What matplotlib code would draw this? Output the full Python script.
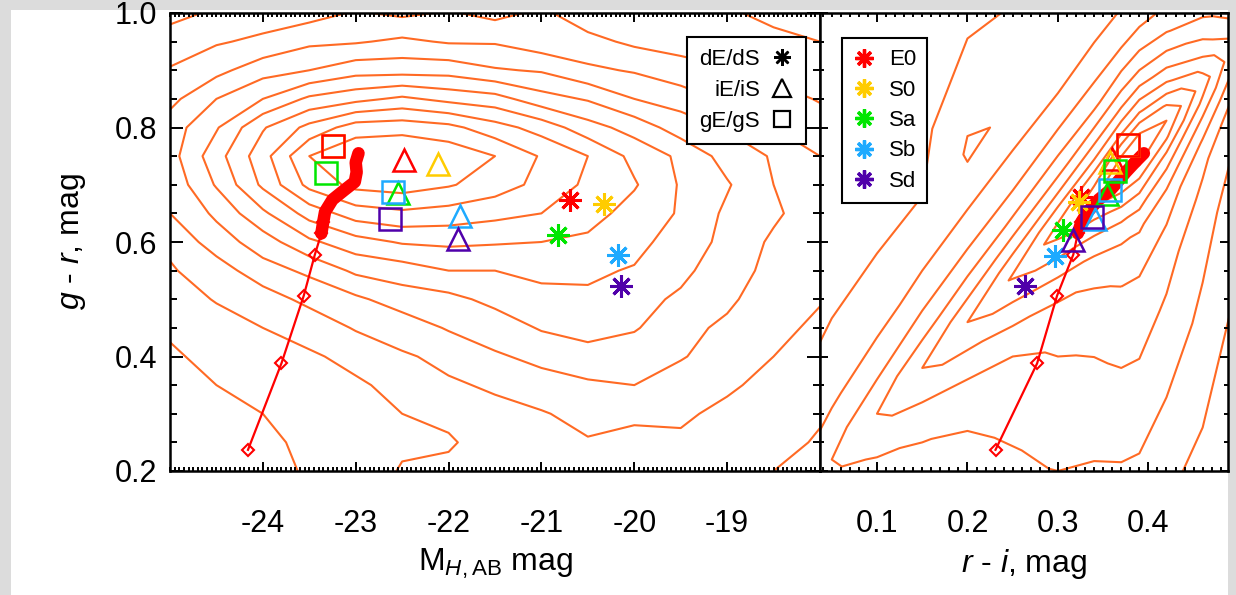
import numpy as np
import matplotlib
matplotlib.use('Agg')
import matplotlib.pyplot as plt
from matplotlib.lines import Line2D
from matplotlib.patches import Rectangle
from matplotlib.ticker import FixedLocator, MultipleLocator, FixedFormatter

plt.rcParams['font.family'] = ['Liberation Sans', 'DejaVu Sans']
plt.rcParams['axes.unicode_minus'] = False
plt.rcParams['mathtext.fontset'] = 'custom'
plt.rcParams['mathtext.rm'] = 'Liberation Sans'
plt.rcParams['mathtext.it'] = 'Liberation Sans:italic'
plt.rcParams['mathtext.bf'] = 'Liberation Sans:bold'

# ---------------- data ----------------
types = ['E0', 'S0', 'Sa', 'Sb', 'Sd']
type_colors = ['#ff0000', '#ffcc00', '#00e600', '#1eaaff', '#5000aa']

# left panel: M_H,AB vs g-r
dwarf_MH = [-20.69, -20.33, -20.82, -20.17, -20.14]
dwarf_gr = [0.673, 0.666, 0.613, 0.577, 0.524]
inter_MH = [-22.48, -22.11, -22.55, -21.88, -21.90]
inter_gr = [0.743, 0.737, 0.686, 0.646, 0.606]
giant_MH = [-23.245, -23.245, -23.32, -22.60, -22.63]
giant_gr = [0.768, 0.768, 0.720, 0.687, 0.641]

# right panel: r-i vs g-r
dwarf_ri = [0.326, 0.323, 0.306, 0.297, 0.264]
dwarf_gr2 = [0.678, 0.670, 0.621, 0.575, 0.524]
inter_ri = [0.360, 0.358, 0.354, 0.341, 0.317]
inter_gr2 = [0.745, 0.739, 0.684, 0.641, 0.604]
giant_ri = [0.377, 0.377, 0.363, 0.358, 0.338]
giant_gr3 = [0.770, 0.770, 0.724, 0.690, 0.644]

# model track
track_gr = [0.237, 0.388, 0.506, 0.578, 0.615, 0.635, 0.653, 0.674, 0.691, 0.705, 0.722, 0.739, 0.755]
track_MH = [-24.16, -23.80, -23.56, -23.44, -23.37, -23.35, -23.33, -23.25, -23.12, -23.01, -22.99, -23.00, -22.97]
track_ri = [0.231, 0.277, 0.299, 0.317, 0.322, 0.326, 0.333, 0.345, 0.358, 0.366, 0.375, 0.385, 0.395]
n_diamond = 6

# density grid, left panel (rows: g-r from 1.00 down to 0.20)
MH_nodes = [-25.0, -24.5, -24.0, -23.5, -23.0, -22.5, -22.0, -21.5, -21.0, -20.5, -20.0, -19.5, -19.0, -18.5, -18.0]
gr_nodes_desc = [1.00, 0.95, 0.90, 0.85, 0.80, 0.75, 0.70, 0.65, 0.60, 0.55, 0.50, 0.45, 0.40, 0.35, 0.30, 0.25, 0.20]
dens_left = [
    [0.3, 0.6, 1.0, 1.1, 1.6, 1.3, 1.6, 1.2, 1.7, 0.9, 1.1, 0.5, 0.6, 0.3, 0.2],
    [0.8, 1.4, 1.7, 2.3, 2.4, 2.7, 2.4, 2.4, 1.9, 1.8, 1.3, 1.2, 0.8, 0.7, 0.5],
    [1.6, 2.2, 3.1, 3.5, 4.1, 4.1, 4.1, 3.6, 3.4, 2.7, 2.4, 1.8, 1.6, 1.1, 1.0],
    [2.2, 3.5, 4.5, 5.7, 6.2, 6.7, 6.2, 5.9, 4.9, 4.4, 3.5, 3.1, 2.3, 2.0, 1.4],
    [3.0, 4.4, 6.4, 7.8, 9.0, 9.1, 8.8, 7.9, 7.1, 5.9, 5.1, 4.0, 3.4, 2.5, 2.1],
    [3.1, 5.1, 7.1, 9.5, 10.4, 10.6, 10.2, 9.5, 8.4, 7.5, 6.2, 5.3, 4.1, 3.4, 2.5],
    [2.8, 4.6, 6.7, 8.8, 9.8, 10.0, 9.6, 9.0, 8.2, 7.3, 6.6, 5.4, 4.6, 3.5, 3.0],
    [2.5, 3.7, 5.3, 6.9, 8.0, 8.3, 8.1, 7.8, 7.5, 6.9, 6.1, 5.4, 4.3, 3.7, 2.8],
    [1.7, 3.0, 4.0, 5.3, 6.1, 6.6, 6.7, 6.6, 6.5, 6.3, 5.9, 4.9, 4.3, 3.3, 2.9],
    [1.4, 2.0, 3.1, 3.7, 4.7, 5.0, 5.5, 5.5, 5.9, 5.7, 5.4, 4.8, 3.8, 3.3, 2.5],
    [0.8, 1.6, 2.0, 2.8, 3.3, 4.0, 4.2, 4.8, 5.0, 5.3, 4.9, 4.3, 3.7, 2.9, 2.6],
    [0.6, 0.9, 1.5, 1.8, 2.6, 2.9, 3.6, 3.9, 4.6, 4.7, 4.6, 3.8, 3.3, 2.9, 2.2],
    [0.4, 0.7, 0.8, 1.4, 1.7, 2.4, 2.7, 3.4, 3.7, 4.3, 3.9, 3.6, 2.9, 2.5, 2.2],
    [0.2, 0.5, 0.6, 0.8, 1.4, 1.7, 2.4, 2.6, 3.2, 3.3, 3.5, 2.9, 2.7, 2.1, 1.9],
    [0.1, 0.3, 0.5, 0.6, 0.8, 1.5, 1.7, 2.3, 2.4, 2.9, 2.7, 2.7, 2.2, 2.1, 1.6],
    [0.1, 0.2, 0.3, 0.7, 0.6, 1.3, 1.4, 1.9, 2.0, 2.4, 2.2, 2.3, 1.9, 1.8, 1.4],
    [0.0, 0.1, 0.2, 0.6, 0.8, 1.6, 1.7, 2.0, 1.9, 2.1, 2.0, 1.9, 1.6, 1.5, 1.3],
]

# density grid, right panel: columns r-i, rows = g-r offset from the colour ridge
ri_nodes = [0.0, 0.05, 0.10, 0.15, 0.20, 0.25, 0.30, 0.34, 0.37, 0.39, 0.42, 0.46, 0.50]
ridge_offsets = [-0.75, -0.60, -0.50, -0.40, -0.32, -0.25, -0.19, -0.14, -0.10, -0.06, -0.03,
                 0.00, 0.03, 0.06, 0.10, 0.15, 0.22, 0.30, 0.40, 0.55, 0.80]
ridge_ri0, ridge_gr0, ridge_slope = 0.10, 0.30, 1.6
dens_right = [
    [0.1, 0.2, 0.3, 0.5, 0.6, 0.8, 1.0, 1.1, 1.2, 1.2, 1.1, 0.9, 0.6],
    [0.2, 0.4, 0.6, 0.8, 1.1, 1.3, 1.6, 1.8, 2.0, 2.1, 1.9, 1.5, 1.0],
    [0.3, 0.5, 0.8, 1.1, 1.4, 1.8, 2.1, 2.3, 2.6, 2.7, 2.4, 1.8, 1.2],
    [0.4, 0.7, 1.0, 1.3, 1.8, 2.1, 2.6, 2.9, 3.2, 3.3, 3.0, 2.3, 1.5],
    [0.5, 0.8, 1.1, 1.5, 2.0, 2.4, 2.9, 3.3, 3.7, 3.8, 3.4, 2.6, 1.7],
    [0.6, 0.9, 1.3, 1.7, 2.2, 2.7, 3.3, 3.7, 4.1, 4.2, 3.8, 2.9, 1.9],
    [0.7, 1.1, 1.6, 2.0, 2.5, 3.0, 3.7, 4.2, 4.7, 4.9, 4.4, 3.3, 2.2],
    [0.8, 1.3, 1.9, 2.4, 2.9, 3.5, 4.2, 4.8, 5.4, 5.6, 5.0, 3.7, 2.4],
    [0.9, 1.6, 2.2, 2.8, 3.5, 4.2, 5.0, 5.7, 6.4, 6.7, 6.0, 4.4, 2.8],
    [1.2, 1.9, 2.7, 3.5, 4.2, 5.1, 6.1, 6.9, 7.9, 8.2, 7.3, 5.4, 3.5],
    [1.4, 2.3, 3.2, 4.1, 5.0, 5.9, 7.1, 8.1, 9.2, 9.5, 8.6, 6.3, 4.1],
    [1.5, 2.5, 3.5, 4.5, 5.5, 6.6, 7.9, 9.0, 10.2, 10.6, 9.5, 7.0, 4.5],
    [1.3, 2.2, 3.1, 4.0, 4.8, 5.8, 7.0, 7.9, 9.0, 9.3, 8.4, 6.2, 4.0],
    [1.1, 1.8, 2.5, 3.2, 4.0, 4.8, 5.7, 6.5, 7.3, 7.6, 6.8, 5.0, 3.2],
    [0.8, 1.4, 1.9, 2.5, 3.0, 3.6, 4.3, 5.0, 5.6, 5.8, 5.2, 3.9, 2.5],
    [0.6, 1.0, 1.3, 1.7, 2.1, 2.5, 3.0, 3.4, 3.9, 4.0, 3.6, 2.7, 1.7],
    [0.3, 0.6, 0.8, 1.0, 1.2, 1.5, 1.7, 2.0, 2.2, 2.3, 2.1, 1.5, 1.0],
    [0.2, 0.3, 0.4, 0.5, 1.6, 1.4, 0.9, 1.1, 1.2, 1.3, 1.1, 0.8, 0.5],
    [0.1, 0.2, 0.2, 0.3, 1.2, 0.9, 0.5, 0.5, 0.6, 0.6, 0.6, 0.4, 0.3],
    [0.0, 0.1, 0.1, 0.1, 0.1, 0.1, 0.2, 0.2, 0.2, 0.2, 0.2, 0.1, 0.1],
    [0.0, 0.0, 0.0, 0.0, 0.0, 0.0, 0.0, 0.0, 0.0, 0.0, 0.0, 0.0, 0.0],
]
contour_levels = [0.5, 1.5, 2.5, 3.5, 4.5, 5.5, 6.5, 7.5, 8.5, 9.5]

x_ticks_left = [-24, -23, -22, -21, -20, -19]
x_ticks_right = [0.1, 0.2, 0.3, 0.4]
y_ticks = [0.2, 0.4, 0.6, 0.8, 1.0]
set_labels = ['dE/dS', 'iE/iS', 'gE/gS']

# ---------------- style ----------------
CONTOUR = '#ff6a24'
TRACK = '#ff0000'
ASTER = (8, 2, 0)

W, H = 1236, 595
fig = plt.figure(figsize=(W / 100, H / 100), dpi=100, facecolor='#dcdcdc')
fig.patches.append(Rectangle((11 / W, 0), 1217 / W, 585 / H, transform=fig.transFigure,
                             facecolor='white', edgecolor='none', zorder=-10))

bottom = (H - 471) / H
height = 458 / H
axL = fig.add_axes([170 / W, bottom, 650 / W, height])
axR = fig.add_axes([820 / W, bottom, 408 / W, height])

# contours
gL = np.flipud(np.array(dens_left))
axL.contour(np.array(MH_nodes), np.array(gr_nodes_desc[::-1]), gL, levels=contour_levels,
            colors=CONTOUR, linewidths=1.5, zorder=1)

RI = np.tile(np.array(ri_nodes), (len(ridge_offsets), 1))
GR = ridge_gr0 + ridge_slope * (RI - ridge_ri0) + np.array(ridge_offsets)[:, None]
axR.contour(RI, GR, np.array(dens_right), levels=contour_levels,
            colors=CONTOUR, linewidths=1.5, zorder=1)

# model tracks
for ax, tx in ((axL, track_MH), (axR, track_ri)):
    ax.plot(tx[:n_diamond], track_gr[:n_diamond], color=TRACK, lw=1.6, marker='D', ms=6.5,
            mfc='none', mec=TRACK, mew=1.5, zorder=3)
    ax.plot(tx[n_diamond - 2:], track_gr[n_diamond - 2:], color=TRACK, lw=9,
            solid_capstyle='round', solid_joinstyle='round', zorder=3)

# galaxy templates
sets_left = [(dwarf_MH, dwarf_gr, ASTER), (inter_MH, inter_gr, '^'), (giant_MH, giant_gr, 's')]
sets_right = [(dwarf_ri, dwarf_gr2, ASTER), (inter_ri, inter_gr2, '^'), (giant_ri, giant_gr3, 's')]
msize = {ASTER: 16, '^': 16, 's': 16}
mwid = {ASTER: 2.2, '^': 1.8, 's': 1.8}
for ax, sets in ((axL, sets_left), (axR, sets_right)):
    for xs, ys, mk in sets:
        order = range(len(types)) if mk != 's' else range(len(types) - 1, -1, -1)
        for i in order:
            if mk == ASTER:
                ax.plot(xs[i], ys[i], ls='none', marker=mk, ms=msize[mk], mec=type_colors[i],
                        mew=mwid[mk], zorder=4)
            else:
                ax.plot(xs[i], ys[i], ls='none', marker=mk, ms=msize[mk], mfc='none',
                        mec=type_colors[i], mew=mwid[mk], zorder=4)

# axes cosmetics
axL.set_xlim(-25, -18)
axR.set_xlim(0.037, 0.488)
for ax in (axL, axR):
    ax.set_ylim(0.2, 1.0)
    ax.yaxis.set_major_locator(FixedLocator(y_ticks))
    ax.yaxis.set_minor_locator(MultipleLocator(0.05))
    for s in ax.spines.values():
        s.set_linewidth(1.8)
    ax.tick_params(which='both', direction='in', top=True, right=True, width=1.4)
    ax.tick_params(axis='x', which='major', length=6.5, pad=27, labelsize=22)
    ax.tick_params(axis='x', which='minor', length=3.2)

axL.xaxis.set_major_locator(FixedLocator(x_ticks_left))
axL.xaxis.set_major_formatter(FixedFormatter([str(v) for v in x_ticks_left]))
axL.xaxis.set_minor_locator(MultipleLocator(0.05))
axR.xaxis.set_major_locator(FixedLocator(x_ticks_right))
axR.xaxis.set_major_formatter(FixedFormatter(['%.1f' % v for v in x_ticks_right]))
axR.xaxis.set_minor_locator(MultipleLocator(0.01))
axL.yaxis.set_major_formatter(FixedFormatter(['%.1f' % v for v in y_ticks]))

axL.tick_params(axis='y', which='major', length=9.4, pad=9, labelsize=22)
axL.tick_params(axis='y', which='minor', length=4.7)
axR.tick_params(axis='y', which='major', length=5.8, labelleft=False)
axR.tick_params(axis='y', which='minor', length=2.9)

axL.set_xlabel(r'M$_{H\mathrm{,AB}}$ mag', fontsize=23)
axL.xaxis.set_label_coords(0.5, -0.165)
axR.set_xlabel(r'$r$ - $i$, mag', fontsize=23)
axR.xaxis.set_label_coords(0.5, -0.165)
axL.set_ylabel(r'$g$ - $r$, mag', fontsize=23)
axL.yaxis.set_label_coords(-0.126, 0.5)

# legends
hl = [Line2D([], [], ls='none', marker=ASTER, ms=12, mec='black', mew=1.8),
      Line2D([], [], ls='none', marker='^', ms=13, mfc='none', mec='black', mew=1.6),
      Line2D([], [], ls='none', marker='s', ms=11.5, mfc='none', mec='black', mew=1.6)]
legL = axL.legend(hl, set_labels, loc='upper right', bbox_to_anchor=(0.978, 0.948),
                  borderaxespad=0, markerfirst=False, fontsize=16, frameon=True, fancybox=False,
                  edgecolor='black', framealpha=1, handlelength=1.0, handletextpad=0.5,
                  labelspacing=0.45, borderpad=0.55)
legL.get_frame().set_linewidth(1.5)
legL.set_zorder(6)

hr = [Line2D([], [], ls='none', marker=ASTER, ms=13, mec=c, mew=2.4) for c in type_colors]
legR = axR.legend(hr, types, loc='upper left', bbox_to_anchor=(0.054, 0.945),
                  borderaxespad=0, fontsize=16, frameon=True, fancybox=False,
                  edgecolor='black', framealpha=1, handlelength=1.0, handletextpad=0.6,
                  labelspacing=0.42, borderpad=0.5)
legR.get_frame().set_linewidth(1.5)
legR.set_zorder(6)

fig.savefig('out.png', dpi=100, facecolor=fig.get_facecolor())
